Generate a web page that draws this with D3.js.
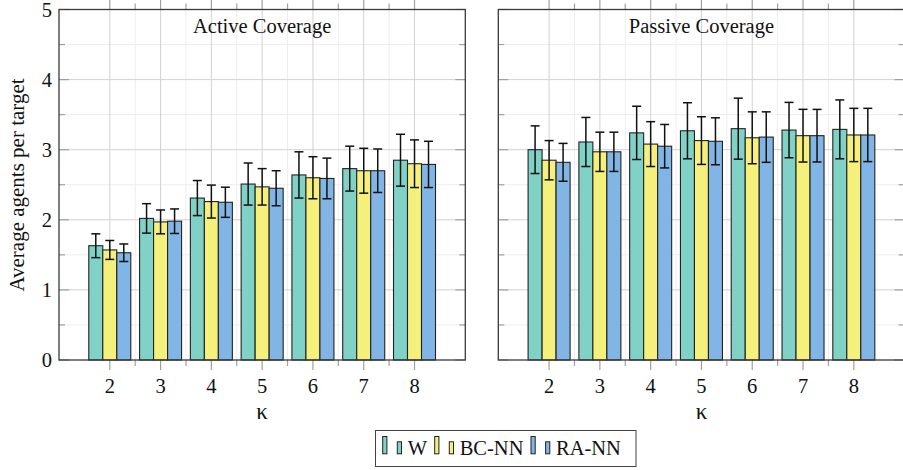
<!DOCTYPE html>
<html>
<head>
<meta charset="utf-8">
<script src="https://cdn.jsdelivr.net/npm/d3@7"></script>
<style>
  html, body { margin: 0; padding: 0; background: #fff; }
  svg { display: block; }
  text { font-family: "Liberation Serif", "Times New Roman", serif; fill: #111; }
</style>
</head>
<body>
<svg id="chart" width="903" height="470"></svg>
<script>
// ---- data ----
const kappa = [2, 3, 4, 5, 6, 7, 8];
const seriesNames = ["W", "BC-NN", "RA-NN"];
const seriesColors = ["#80d2c7", "#f5f07c", "#80b5e5"];
const yTicks = [0, 1, 2, 3, 4, 5];
const panelTitles = ["Active Coverage", "Passive Coverage"];

const activeW      = [1.63, 2.02, 2.31, 2.51, 2.64, 2.73, 2.85];
const activeWErr   = [0.17, 0.21, 0.25, 0.30, 0.33, 0.32, 0.37];
const activeBC     = [1.57, 1.97, 2.26, 2.47, 2.60, 2.70, 2.80];
const activeBCErr  = [0.135, 0.17, 0.235, 0.26, 0.30, 0.32, 0.34];
const activeRA     = [1.53, 1.98, 2.25, 2.45, 2.59, 2.70, 2.79];
const activeRAErr  = [0.125, 0.175, 0.215, 0.25, 0.29, 0.31, 0.33];

const passiveW     = [3.00, 3.11, 3.24, 3.27, 3.30, 3.28, 3.29];
const passiveWErr  = [0.34, 0.35, 0.38, 0.40, 0.435, 0.395, 0.42];
const passiveBC    = [2.85, 2.97, 3.08, 3.13, 3.17, 3.20, 3.21];
const passiveBCErr = [0.28, 0.28, 0.32, 0.34, 0.37, 0.376, 0.38];
const passiveRA    = [2.82, 2.97, 3.05, 3.12, 3.18, 3.20, 3.21];
const passiveRAErr = [0.27, 0.28, 0.31, 0.335, 0.36, 0.375, 0.38];

const panels = [
  { title: panelTitles[0], left: 59, vals: [activeW, activeBC, activeRA], errs: [activeWErr, activeBCErr, activeRAErr], yLabels: true },
  { title: panelTitles[1], left: 498.3, vals: [passiveW, passiveBC, passiveRA], errs: [passiveWErr, passiveBCErr, passiveRAErr], yLabels: false }
];

// ---- layout ----
const svg = d3.select("#chart");
const panelW = 406.3, plotTop = 9.5, plotBottom = 360;
const FS = 20.5;
const barW = 14, capHalf = 4.5;
const majTick = 10, minTick = 6;

const y = d3.scaleLinear().domain([0, 5]).range([plotBottom, plotTop]);
const yMinor = d3.range(0.5, 5, 1);
const xMinor = d3.range(2.5, 8, 1);

panels.forEach(p => {
  const x = d3.scaleLinear().domain([1, 9]).range([p.left, p.left + panelW]);
  const g = svg.append("g");

  // minor grid
  g.selectAll(".ymg").data(yMinor).join("line")
    .attr("x1", p.left).attr("x2", p.left + panelW)
    .attr("y1", d => y(d)).attr("y2", d => y(d))
    .attr("stroke", "#eeeeee").attr("stroke-width", 1);
  g.selectAll(".xmg").data(xMinor).join("line")
    .attr("x1", d => x(d)).attr("x2", d => x(d))
    .attr("y1", plotTop).attr("y2", plotBottom)
    .attr("stroke", "#eeeeee").attr("stroke-width", 1);
  // major grid
  g.selectAll(".yg").data(yTicks.slice(1, -1)).join("line")
    .attr("x1", p.left).attr("x2", p.left + panelW)
    .attr("y1", d => y(d)).attr("y2", d => y(d))
    .attr("stroke", "#d2d2d2").attr("stroke-width", 1);
  g.selectAll(".xg").data(kappa).join("line")
    .attr("x1", d => x(d)).attr("x2", d => x(d))
    .attr("y1", plotTop).attr("y2", plotBottom)
    .attr("stroke", "#d2d2d2").attr("stroke-width", 1);

  // y ticks inside (left & right)
  const yt = [...yTicks.map(v => ({ v, L: majTick })), ...yMinor.map(v => ({ v, L: minTick }))];
  g.selectAll(".ytl").data(yt).join("line")
    .attr("x1", p.left).attr("x2", d => p.left + d.L)
    .attr("y1", d => y(d.v)).attr("y2", d => y(d.v))
    .attr("stroke", "#a0a0a0").attr("stroke-width", 1.2);
  g.selectAll(".ytr").data(yt).join("line")
    .attr("x1", p.left + panelW).attr("x2", d => p.left + panelW - d.L)
    .attr("y1", d => y(d.v)).attr("y2", d => y(d.v))
    .attr("stroke", "#a0a0a0").attr("stroke-width", 1.2);
  // x ticks outside (bottom & top)
  const xt = [...kappa.map(v => ({ v, L: majTick })), ...xMinor.map(v => ({ v, L: minTick }))];
  g.selectAll(".xtb").data(xt).join("line")
    .attr("x1", d => x(d.v)).attr("x2", d => x(d.v))
    .attr("y1", plotBottom).attr("y2", d => plotBottom + d.L)
    .attr("stroke", "#a0a0a0").attr("stroke-width", 1.2);
  g.selectAll(".xtt").data(xt).join("line")
    .attr("x1", d => x(d.v)).attr("x2", d => x(d.v))
    .attr("y1", plotTop).attr("y2", d => plotTop - d.L)
    .attr("stroke", "#a0a0a0").attr("stroke-width", 1.2);

  // bars
  p.vals.forEach((vals, si) => {
    const off = (si - 1.5) * barW;
    g.selectAll(".bar" + si).data(vals).join("rect")
      .attr("x", (d, i) => x(kappa[i]) + off)
      .attr("y", d => y(d))
      .attr("width", barW)
      .attr("height", d => y(0) - y(d))
      .attr("fill", seriesColors[si])
      .attr("stroke", "#222").attr("stroke-width", 1.1);
  });
  // error bars
  p.vals.forEach((vals, si) => {
    const off = (si - 1) * barW;
    const errs = p.errs[si];
    const eg = g.append("g").attr("stroke", "#111").attr("stroke-width", 1.5);
    vals.forEach((v, i) => {
      const cx = x(kappa[i]) + off;
      const e = errs[i];
      eg.append("line").attr("x1", cx).attr("x2", cx).attr("y1", y(v + e)).attr("y2", y(v - e));
      eg.append("line").attr("x1", cx - capHalf).attr("x2", cx + capHalf).attr("y1", y(v + e)).attr("y2", y(v + e));
      eg.append("line").attr("x1", cx - capHalf).attr("x2", cx + capHalf).attr("y1", y(v - e)).attr("y2", y(v - e));
    });
  });

  // frame
  g.append("rect").attr("x", p.left).attr("y", plotTop).attr("width", panelW).attr("height", plotBottom - plotTop)
    .attr("fill", "none").attr("stroke", "#3a3a3a").attr("stroke-width", 1.3);

  // title
  g.append("text").attr("x", p.left + panelW / 2).attr("y", 33.3)
    .attr("text-anchor", "middle").style("font-size", FS + "px").text(p.title);

  // x tick labels
  g.selectAll(".xl").data(kappa).join("text")
    .attr("x", d => x(d)).attr("y", 392.7)
    .attr("text-anchor", "middle").style("font-size", FS + "px").text(d => d);
  // x axis label
  g.append("text").attr("x", p.left + panelW / 2).attr("y", 418.5)
    .attr("text-anchor", "middle").style("font-size", "23px").text("κ");

  if (p.yLabels) {
    g.selectAll(".yl").data(yTicks).join("text")
      .attr("x", 52).attr("y", d => y(d) + 7)
      .attr("text-anchor", "end").style("font-size", FS + "px").text(d => d);
  }
});

// y axis label
svg.append("text")
  .attr("transform", "translate(24,185) rotate(-90)")
  .attr("text-anchor", "middle").style("font-size", "21px")
  .text("Average agents per target");

// legend
const lg = svg.append("g");
lg.append("rect").attr("x", 375.5).attr("y", 430.5).attr("width", 260.5).attr("height", 36)
  .attr("fill", "#fff").attr("stroke", "#444").attr("stroke-width", 1);
const legendX = [382.7, 434.7, 531];
seriesNames.forEach((name, i) => {
  const lx = legendX[i];
  lg.append("rect").attr("x", lx).attr("y", 436.5).attr("width", 4.2).attr("height", 17.3)
    .attr("fill", seriesColors[i]).attr("stroke", "#222").attr("stroke-width", 1);
  lg.append("rect").attr("x", lx + 14.6).attr("y", 441.8).attr("width", 4.2).attr("height", 12)
    .attr("fill", seriesColors[i]).attr("stroke", "#222").attr("stroke-width", 1);
  lg.append("text").attr("x", lx + 25).attr("y", 454.5).style("font-size", FS + "px").text(name);
});
</script>
</body>
</html>
